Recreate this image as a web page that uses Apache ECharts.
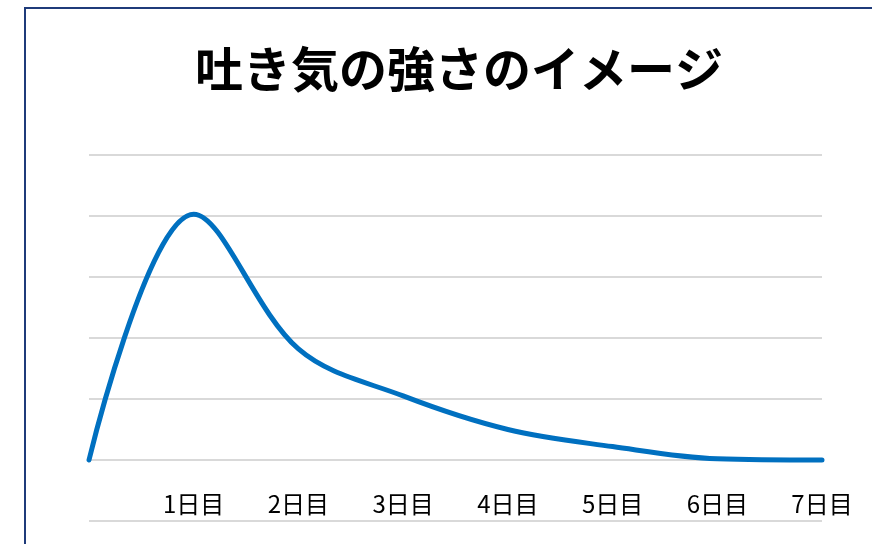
<!DOCTYPE html>
<html><head><meta charset="utf-8">
<script src="https://cdn.jsdelivr.net/npm/echarts@6/dist/echarts.min.js"></script>
<style>html,body{margin:0;padding:0;background:#fff}#c{width:872px;height:544px}</style>
</head><body><div id="c"></div>
<script>
const categories = ['', '1日目', '2日目', '3日目', '4日目', '5日目', '6日目', '7日目'];
const intensity = [0, 4.03, 1.82, 1.05, 0.5, 0.22, 0.02, 0.0];
const titleText = '吐き気の強さのイメージ';

const chart = echarts.init(document.getElementById('c'), null, {renderer: 'canvas'});
chart.setOption({
  animation: false,
  backgroundColor: '#fff',
  title: {
    text: titleText, left: 454, top: 40, textAlign: 'center',
    textStyle: {fontFamily: 'Noto Sans CJK JP', fontWeight: 'bold', fontSize: 48, color: '#000'}
  },
  graphic: [{
    type: 'rect', shape: {x: 25, y: 8, width: 900, height: 600},
    style: {fill: 'none', stroke: '#1f3b7a', lineWidth: 2}, silent: true
  }],
  grid: {left: 89, right: 50, top: 155, bottom: 23, containLabel: false, outerBoundsMode: 'none'},
  xAxis: {
    type: 'category', data: categories, boundaryGap: false,
    axisLine: {show: false, onZero: false}, axisTick: {show: false},
    axisLabel: {inside: true, margin: 5, fontSize: 24, color: '#000', fontFamily: 'Noto Sans CJK JP', interval: 0, hideOverlap: false}
  },
  yAxis: {
    type: 'value', min: -1, max: 5, interval: 1,
    axisLabel: {show: false}, axisLine: {show: false}, axisTick: {show: false},
    splitLine: {lineStyle: {color: '#d9d9d9', width: 2}}
  },
  series: [{
    type: 'line', data: intensity, smooth: 0.35, symbol: 'none',
    lineStyle: {color: '#0070c0', width: 5, cap: 'round'}
  }]
});
</script></body></html>
